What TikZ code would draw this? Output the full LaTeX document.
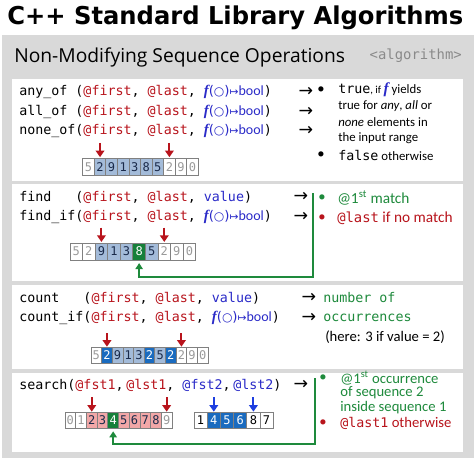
\documentclass[tikz,border=0pt]{standalone}
\usepackage{fontspec}
\usepackage{graphicx}
\usetikzlibrary{arrows.meta}
\setmainfont{Carlito}
\newfontfamily\monof{DejaVu Sans Mono}
\newfontfamily\symf{DejaVu Sans}
\newfontfamily\fitf{Liberation Serif}
\newfontfamily\titlef{DejaVu Sans}
\newfontfamily\subf{Open Sans}
\definecolor{panel}{HTML}{D9D9D9}
\definecolor{cred}{HTML}{B8141C}
\definecolor{cblue}{HTML}{2A2AC8}
\definecolor{pblue}{HTML}{1E3FE0}
\definecolor{cgreen}{HTML}{1E8A3C}
\definecolor{lblue}{HTML}{A3BBD9}
\definecolor{dblue}{HTML}{1A6BBF}
\definecolor{pinkc}{HTML}{F2A7A7}
\definecolor{dgreen}{HTML}{16803A}
\definecolor{cellgray}{HTML}{9A9A9A}
\definecolor{bord}{HTML}{808080}
\definecolor{algogray}{HTML}{8A8A8A}
\definecolor{navy}{HTML}{1A2A4A}
\newcommand\rc[1]{\textcolor{cred}{#1}}
\newcommand\bc[1]{\textcolor{cblue}{#1}}
\newcommand\ff{{\fitf\bfseries\itshape f}}
\newcommand\fb{\textcolor{cblue}{{\fontsize{11}{12}\selectfont\ff}{\symf(}{\symf\fontsize{9}{10}\selectfont○}{\symf)}{\symf\fontsize{8}{9}\selectfont↦}{\normalfont\fontsize{10.5}{12}\selectfont bool}}}
\newcommand\cellrow[6]{%
  \foreach \d/\s [count=\i from 0] in {#6}{%
    \node[cellbox,\s,minimum width={#4*0.75pt},minimum height={#5*0.75pt}] (#1-\i) at ({#2+(\i+0.5)*#4},#3) {\d};}}
\begin{document}
\begin{tikzpicture}[x=0.75pt,y=-0.75pt,
  code/.style={anchor=west,inner sep=0,font=\monof\fontsize{10}{12}\selectfont},
  arr/.style={inner sep=0,font=\symf\fontsize{13}{14}\selectfont},
  bul/.style={inner sep=0,font=\fontsize{11}{12}\selectfont},
  desca/.style={anchor=west,inner sep=0,font=\fontsize{9.6}{11}\selectfont},
  descb/.style={anchor=west,inner sep=0,font=\fontsize{11.5}{13}\selectfont},
  descc/.style={anchor=west,inner sep=0,font=\fontsize{11}{13}\selectfont},
  cellbox/.style={draw=bord,line width=0.6pt,inner sep=0,font=\monof\fontsize{9}{10}\selectfont},
  wc/.style={fill=white,text=cellgray},
  bk/.style={fill=white,text=black},
  lb/.style={fill=lblue,text=navy},
  gc/.style={fill=dgreen,text=white},
  db/.style={fill=dblue,text=white},
  pk/.style={fill=pinkc,text=navy},
  rptr/.style={draw=cred,line width=1.5pt,-{Triangle[width=6.5pt,length=5pt]},shorten >=0.5pt},
  bptr/.style={draw=pblue,line width=1.5pt,-{Triangle[width=6.5pt,length=5pt]},shorten >=0.5pt},
  gline/.style={draw=cgreen,line width=1.1pt,-{Triangle[width=5.5pt,length=4.5pt]},shorten >=2pt}]
\useasboundingbox (0,0) rectangle (474,458);
\fill[white] (0,0) rectangle (474,458);
\fill[panel] (2,35) rectangle (474,458);
\fill[white] (12,79) rectangle (463,181);
\fill[white] (12,184) rectangle (463,281);
\fill[white] (12,285) rectangle (463,369);
\fill[white] (12,373) rectangle (463,452);
% header
\node[anchor=base west,inner sep=0] (title) at (7,24) {\resizebox{342pt}{14pt}{\titlef\bfseries C++ Standard Library Algorithms}};
\node[anchor=base west,inner sep=0] (sub) at (14,62) {\resizebox{248pt}{!}{\subf Non-Modifying Sequence Operations}};
\node[anchor=base east,inner sep=0,text=algogray] (hdr) at (462,59) {\resizebox{69pt}{!}{\monof <algorithm>}};
% ---- box 1
\node[code] (l1a) at (19,92) {any\_of\ (\rc{@first}, \rc{@last}, \fb)};
\node[code] (l1b) at (19,111.5) {all\_of\ (\rc{@first}, \rc{@last}, \fb)};
\node[code] (l1c) at (19,131) {none\_of(\rc{@first}, \rc{@last}, \fb)};
\node[arr] (r1a) at (306,92) {→};
\node[arr] (r1b) at (306,111.5) {→};
\node[arr] (r1c) at (306,131) {→};
\node[bul] (b1a) at (321,90) {•};
\node[bul] (b1b) at (321,155) {•};
\node[desca] (d1a) at (338,90) {{\monof\fontsize{10}{12}\selectfont true}{\fontsize{8}{9}\selectfont, if }{\fontsize{11.5}{12}\selectfont\textcolor{cblue}{\ff}} yields};
\node[desca] (d1b) at (338,106) {true for \textit{any}, \textit{all} or};
\node[desca] (d1c) at (338,122) {\textit{none} elements in};
\node[desca] (d1d) at (338,138) {the input range};
\node[desca] (d1e) at (338,155) {{\monof\fontsize{10}{12}\selectfont false} otherwise};
\cellrow{c1}{82.7}{167}{11.56}{17.5}{5/wc,2/lb,9/lb,1/lb,3/lb,8/lb,5/lb,2/wc,9/wc,0/wc}
\path (c1-1.north) ++(0,-15) coordinate (p1a);
\path (c1-7.north) ++(0,-15) coordinate (p1b);
\draw[rptr] (p1a) -- (c1-1.north);
\draw[rptr] (p1b) -- (c1-7.north);
% ---- box 2
\node[code] (l2a) at (19,197) {find\ \ \ (\rc{@first}, \rc{@last}, \bc{value})};
\node[code] (l2b) at (19,217) {find\_if(\rc{@first}, \rc{@last}, \fb)};
\node[arr] (r2a) at (301,197) {→};
\node[arr] (r2b) at (301,217) {→};
\node[bul,text=cgreen] (b2a) at (322,198) {•};
\node[bul,text=cred] (b2b) at (322,218) {•};
\node[descb,text=cgreen] (d2a) at (337,198) {@1\textsuperscript{st} match};
\node[descb,text=cred] (d2b) at (337,218) {{\monof\fontsize{10.4}{12}\selectfont @last} if no match};
\cellrow{c2}{70}{251.5}{12.57}{17}{5/wc,2/wc,9/lb,1/lb,3/lb,8/gc,5/lb,2/wc,9/wc,0/wc}
\path (c2-2.north) ++(0,-15) coordinate (p2a);
\path (c2-7.north) ++(0,-15) coordinate (p2b);
\draw[rptr] (p2a) -- (c2-2.north);
\draw[rptr] (p2b) -- (c2-7.north);
\coordinate (g2a) at (313,193);
\coordinate (g2b) at (313,277);
\draw[gline] (g2a) -- (g2b) -| (c2-5.south);
% ---- box 3
\node[code] (l3a) at (19,298) {count\ \ \ (\rc{@first}, \rc{@last}, \bc{value})};
\node[code] (l3b) at (19,318) {count\_if(\rc{@first}, \rc{@last}, \fb)};
\node[arr] (r3a) at (309,298) {→};
\node[arr] (r3b) at (309,318) {→};
\node[code,text=cgreen] (d3a) at (323,298) {number of};
\node[code,text=cgreen] (d3b) at (323,318) {occurrences};
\node[descc] (d3c) at (325,337) {(here: 3 if value = 2)};
\cellrow{c3}{91}{355.5}{10.64}{15.5}{5/wc,2/db,9/lb,1/lb,3/lb,2/db,5/lb,2/db,2/wc,9/wc,0/wc}
\path (c3-1.north) ++(0,-14) coordinate (p3a);
\path (c3-8.north) ++(0,-14) coordinate (p3b);
\draw[rptr] (p3a) -- (c3-1.north);
\draw[rptr] (p3b) -- (c3-8.north);
% ---- box 4
\node[code] (l4a) at (19,385) {search(\rc{@fst1},\hspace{2pt}\rc{@lst1}, \bc{@fst2},\hspace{2pt}\bc{@lst2})};
\node[arr] (r4a) at (301,385) {→};
\node[bul,text=cgreen] (b4a) at (323,378) {•};
\node[bul,text=cred] (b4b) at (323,423) {•};
\node[descc,text=cgreen] (d4a) at (340,378) {@1\textsuperscript{st} occurrence};
\node[descc,text=cgreen] (d4b) at (340,393) {of sequence 2};
\node[descc,text=cgreen] (d4c) at (340,408) {inside sequence 1};
\node[descc,text=cred] (d4d) at (340,423) {{\monof\fontsize{10}{12}\selectfont @last1} otherwise};
\cellrow{s1}{65}{420.5}{10.7}{15.5}{0/wc,1/wc,2/pk,3/pk,4/gc,5/pk,6/pk,7/pk,8/pk,9/wc}
\cellrow{s2}{194}{420.5}{13.2}{15.5}{1/bk,4/db,5/db,6/db,8/bk,7/bk}
\path (s1-2.north) ++(0,-15) coordinate (p4a);
\path (s1-9.north) ++(0,-15) coordinate (p4b);
\path (s2-1.north) ++(0,-15) coordinate (p4c);
\path (s2-4.north) ++(0,-15) coordinate (p4d);
\draw[rptr] (p4a) -- (s1-2.north);
\draw[rptr] (p4b) -- (s1-9.north);
\draw[bptr] (p4c) -- (s2-1.north);
\draw[bptr] (p4d) -- (s2-4.north);
\coordinate (g4a) at (315,378);
\coordinate (g4b) at (315,444);
\draw[gline] (g4a) -- (g4b) -| (s1-4.south);
\end{tikzpicture}
\end{document}
